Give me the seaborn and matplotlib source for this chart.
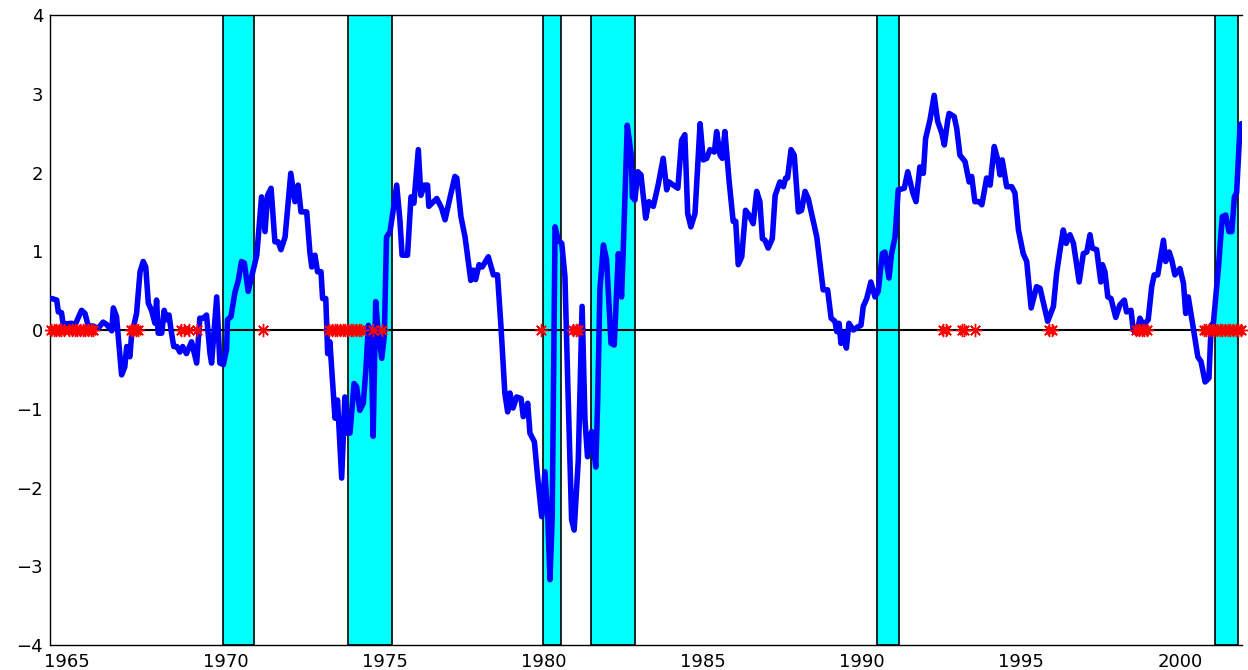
import matplotlib
matplotlib.use("Agg")
import matplotlib.pyplot as plt
import pandas as pd
import seaborn as sns

# Index series: decimal year and value
years = [
    1964.52, 1964.68, 1964.73, 1964.83, 1964.88, 1965.04, 1965.15, 1965.25, 1965.46, 1965.57,
    1965.67, 1965.83, 1965.98, 1966.14, 1966.25, 1966.41, 1966.46, 1966.56, 1966.72, 1966.82,
    1966.88, 1966.98, 1967.03, 1967.19, 1967.30, 1967.40, 1967.48, 1967.56, 1967.66, 1967.77,
    1967.82, 1967.87, 1967.98, 1968.06, 1968.14, 1968.21, 1968.29, 1968.36, 1968.46, 1968.55,
    1968.64, 1968.76, 1968.92, 1969.08, 1969.18, 1969.29, 1969.39, 1969.50, 1969.55, 1969.71,
    1969.81, 1969.92, 1970.02, 1970.05, 1970.16, 1970.28, 1970.39, 1970.49, 1970.58, 1970.70,
    1970.86, 1970.97, 1971.12, 1971.23, 1971.31, 1971.42, 1971.54, 1971.64, 1971.73, 1971.86,
    1972.04, 1972.17, 1972.27, 1972.36, 1972.54, 1972.64, 1972.70, 1972.80, 1972.88, 1972.99,
    1973.04, 1973.14, 1973.20, 1973.27, 1973.43, 1973.51, 1973.64, 1973.74, 1973.80, 1973.90,
    1974.03, 1974.11, 1974.21, 1974.32, 1974.40, 1974.48, 1974.56, 1974.63, 1974.71, 1974.79,
    1974.90, 1974.98, 1975.05, 1975.16, 1975.26, 1975.37, 1975.47, 1975.54, 1975.71, 1975.82,
    1975.91, 1976.05, 1976.13, 1976.24, 1976.34, 1976.38, 1976.63, 1976.78, 1976.89, 1977.04,
    1977.20, 1977.26, 1977.39, 1977.52, 1977.70, 1977.78, 1977.85, 1977.96, 1978.06, 1978.25,
    1978.41, 1978.54, 1978.65, 1978.77, 1978.86, 1978.93, 1979.03, 1979.14, 1979.28, 1979.35,
    1979.42, 1979.49, 1979.56, 1979.70, 1979.80, 1979.93, 1980.03, 1980.12, 1980.19, 1980.26,
    1980.35, 1980.45, 1980.56, 1980.66, 1980.75, 1980.87, 1980.95, 1981.08, 1981.20, 1981.29,
    1981.37, 1981.50, 1981.63, 1981.69, 1981.76, 1981.87, 1981.97, 1982.11, 1982.21, 1982.34,
    1982.44, 1982.49, 1982.62, 1982.74, 1982.78, 1982.86, 1982.95, 1983.05, 1983.20, 1983.30,
    1983.44, 1983.59, 1983.75, 1983.86, 1983.93, 1984.21, 1984.33, 1984.43, 1984.52, 1984.62,
    1984.75, 1984.91, 1985.01, 1985.12, 1985.22, 1985.36, 1985.43, 1985.54, 1985.61, 1985.69,
    1985.82, 1985.95, 1986.03, 1986.11, 1986.22, 1986.34, 1986.45, 1986.58, 1986.69, 1986.79,
    1986.87, 1986.95, 1987.05, 1987.18, 1987.27, 1987.42, 1987.53, 1987.60, 1987.66, 1987.77,
    1987.87, 1988.00, 1988.10, 1988.21, 1988.31, 1988.58, 1988.78, 1988.92, 1989.03, 1989.15,
    1989.21, 1989.28, 1989.34, 1989.43, 1989.51, 1989.59, 1989.73, 1989.87, 1989.97, 1990.04,
    1990.15, 1990.28, 1990.41, 1990.51, 1990.64, 1990.72, 1990.85, 1990.93, 1991.04, 1991.14,
    1991.33, 1991.44, 1991.60, 1991.70, 1991.82, 1991.93, 1992.00, 1992.14, 1992.27, 1992.38,
    1992.51, 1992.59, 1992.70, 1992.74, 1992.90, 1992.98, 1993.08, 1993.24, 1993.37, 1993.45,
    1993.55, 1993.68, 1993.77, 1993.92, 1994.03, 1994.16, 1994.27, 1994.34, 1994.41, 1994.55,
    1994.71, 1994.81, 1994.92, 1995.07, 1995.18, 1995.32, 1995.49, 1995.60, 1995.73, 1995.84,
    1996.02, 1996.12, 1996.23, 1996.33, 1996.42, 1996.54, 1996.65, 1996.83, 1996.96, 1997.07,
    1997.17, 1997.24, 1997.38, 1997.51, 1997.56, 1997.64, 1997.73, 1997.83, 1997.98, 1998.11,
    1998.25, 1998.32, 1998.46, 1998.53, 1998.64, 1998.74, 1998.85, 1999.00, 1999.11, 1999.19,
    1999.30, 1999.37, 1999.48, 1999.55, 1999.66, 1999.74, 1999.84, 2000.00, 2000.11, 2000.18,
    2000.26, 2000.42, 2000.56, 2000.66, 2000.79, 2000.91, 2000.98, 2001.05, 2001.21, 2001.33,
    2001.44, 2001.54, 2001.63, 2001.71, 2001.78, 2001.89, 2001.93,
]
values = [
    0.40, 0.38, 0.23, 0.22, 0.08, 0.08, 0.085, 0.06, 0.25, 0.21,
    0.05, 0.05, 0.02, 0.10, 0.07, -0.01, 0.28, 0.17, -0.57, -0.47,
    -0.21, -0.34, -0.08, 0.21, 0.74, 0.87, 0.80, 0.34, 0.25, 0.085,
    0.38, -0.04, -0.04, 0.25, 0.13, 0.19, -0.04, -0.21, -0.21, -0.28,
    -0.21, -0.30, -0.15, -0.42, 0.15, 0.15, 0.19, -0.30, -0.42, 0.42,
    -0.42, -0.44, -0.25, 0.13, 0.17, 0.47, 0.63, 0.87, 0.85, 0.49,
    0.76, 0.95, 1.69, 1.25, 1.71, 1.80, 1.12, 1.12, 1.02, 1.18,
    1.99, 1.63, 1.84, 1.50, 1.50, 0.99, 0.80, 0.95, 0.74, 0.74,
    0.40, 0.40, -0.30, -0.15, -1.12, -0.89, -1.88, -0.85, -1.31, -1.31,
    -0.68, -0.72, -1.02, -0.93, -0.51, 0.06, -0.04, -1.35, 0.36, -0.04,
    -0.36, -0.08, 1.18, 1.25, 1.52, 1.84, 1.40, 0.95, 0.95, 1.69,
    1.61, 2.29, 1.71, 1.84, 1.84, 1.57, 1.67, 1.55, 1.40, 1.67,
    1.95, 1.93, 1.44, 1.18, 0.63, 0.76, 0.64, 0.83, 0.80, 0.93,
    0.70, 0.70, 0.04, -0.80, -1.04, -0.80, -0.99, -0.85, -0.87, -1.10,
    -1.05, -0.93, -1.31, -1.42, -1.86, -2.37, -1.80, -2.37, -3.17, -2.37,
    1.31, 1.14, 1.10, 0.68, -0.68, -2.41, -2.54, -1.65, 0.30, -1.14,
    -1.61, -1.29, -1.74, -0.89, 0.51, 1.08, 0.89, -0.17, -0.19, 0.97,
    0.42, 0.97, 2.60, 2.24, 1.69, 1.65, 2.01, 1.97, 1.42, 1.63,
    1.57, 1.84, 2.18, 1.78, 1.88, 1.80, 2.41, 2.48, 1.48, 1.31,
    1.48, 2.62, 2.16, 2.18, 2.29, 2.26, 2.52, 2.22, 2.18, 2.52,
    1.90, 1.38, 1.38, 0.83, 0.93, 1.52, 1.46, 1.35, 1.76, 1.63,
    1.16, 1.14, 1.04, 1.16, 1.71, 1.88, 1.82, 1.93, 1.93, 2.29,
    2.22, 1.50, 1.52, 1.76, 1.67, 1.18, 0.51, 0.51, 0.15, 0.11,
    -0.02, 0.085, -0.17, -0.04, -0.23, 0.085, 0.00, 0.04, 0.06, 0.30,
    0.40, 0.61, 0.42, 0.49, 0.97, 0.99, 0.66, 0.97, 1.18, 1.78,
    1.80, 2.01, 1.74, 1.63, 2.07, 1.99, 2.43, 2.67, 2.98, 2.65,
    2.50, 2.35, 2.67, 2.75, 2.71, 2.56, 2.22, 2.14, 1.88, 1.95,
    1.63, 1.63, 1.59, 1.93, 1.84, 2.33, 2.16, 1.97, 2.16, 1.82,
    1.82, 1.74, 1.27, 0.97, 0.87, 0.28, 0.55, 0.53, 0.30, 0.11,
    0.30, 0.72, 1.02, 1.27, 1.10, 1.21, 1.10, 0.61, 0.97, 0.99,
    1.21, 1.04, 1.02, 0.61, 0.83, 0.74, 0.42, 0.40, 0.16, 0.32,
    0.38, 0.23, 0.25, 0.00, -0.04, 0.15, 0.06, 0.13, 0.55, 0.70,
    0.70, 0.87, 1.14, 0.87, 0.99, 0.89, 0.70, 0.78, 0.59, 0.21,
    0.42, 0.02, -0.34, -0.40, -0.66, -0.61, 0.06, 0.085, 0.80, 1.44,
    1.46, 1.25, 1.25, 1.69, 1.74, 2.60, 2.62,
]

# Recession periods (start, end) in decimal years
rec_start = [1969.92, 1973.83, 1979.96, 1981.47, 1990.46, 2001.10]
rec_end = [1970.88, 1975.21, 1980.53, 1982.86, 1991.16, 2001.81]

# Months flagged by the signal, drawn on the zero line
flag_dates = [
    1964.50, 1964.58, 1964.67, 1964.75, 1964.83, 1964.92, 1965.08, 1965.17,
    1965.25, 1965.33, 1965.42, 1965.50, 1965.58, 1965.67, 1965.75, 1965.83,
    1967.00, 1967.08, 1967.17, 1967.25,
    1968.58, 1968.67, 1968.83, 1969.08,
    1971.17,
    1973.25, 1973.33, 1973.42, 1973.50, 1973.58, 1973.67, 1973.75, 1973.83,
    1973.92, 1974.00, 1974.08, 1974.17, 1974.25, 1974.63, 1974.90,
    1979.92,
    1980.92, 1981.00, 1981.06,
    1992.55, 1992.63, 1993.13, 1993.21, 1993.55,
    1995.88, 1995.96,
    1998.63, 1998.71, 1998.79, 1998.88, 1998.96,
    2000.75, 2000.83, 2000.92, 2001.00, 2001.08, 2001.17, 2001.25, 2001.33,
    2001.42, 2001.50, 2001.58, 2001.67, 2001.75, 2001.83, 2001.92,
]

x_ticks = [1965, 1970, 1975, 1980, 1985, 1990, 1995, 2000]
y_ticks = [-4, -3, -2, -1, 0, 1, 2, 3, 4]

sns.set_style("white")
plt.rcParams["font.family"] = ["DejaVu Sans"]
plt.rcParams["font.size"] = 13

fig = plt.figure(figsize=(12.48, 6.70), dpi=100)
ax = fig.add_axes([0.0401, 0.0373, 0.9551, 0.9403])

# shaded recession bands
for s, e in zip(rec_start, rec_end):
    ax.axvspan(s, e, facecolor="#00ffff", edgecolor="black", linewidth=1.2, zorder=1)

# zero reference line
ax.axhline(0, color="black", linewidth=1.5, zorder=2)

series = pd.DataFrame({"year": years, "value": values})
sns.lineplot(data=series, x="year", y="value", ax=ax, color="#0000ff",
             linewidth=4.0, sort=False, zorder=3,
             solid_joinstyle="round", solid_capstyle="round")

ax.plot(flag_dates, [0] * len(flag_dates), linestyle="none", marker=(8, 2, 0),
        markersize=9.5, markeredgecolor="#ff0000", markeredgewidth=1.0,
        color="#ff0000", zorder=4, clip_on=False)

ax.set_xlim(1964.47, 2001.95)
ax.set_ylim(-4, 4)
ax.set_xticks(x_ticks)
ax.set_yticks(y_ticks)
ax.set_xlabel("")
ax.set_ylabel("")

ax.tick_params(axis="x", direction="in", length=5, width=0.8, pad=6, colors="black")
ax.tick_params(axis="y", direction="in", length=8.5, width=0.8, pad=5, colors="black")

for side in ["left", "bottom", "top"]:
    ax.spines[side].set_visible(True)
    ax.spines[side].set_color("black")
    ax.spines[side].set_linewidth(1.0)
ax.spines["right"].set_visible(False)
ax.grid(False)

fig.savefig("out.png", dpi=100)
